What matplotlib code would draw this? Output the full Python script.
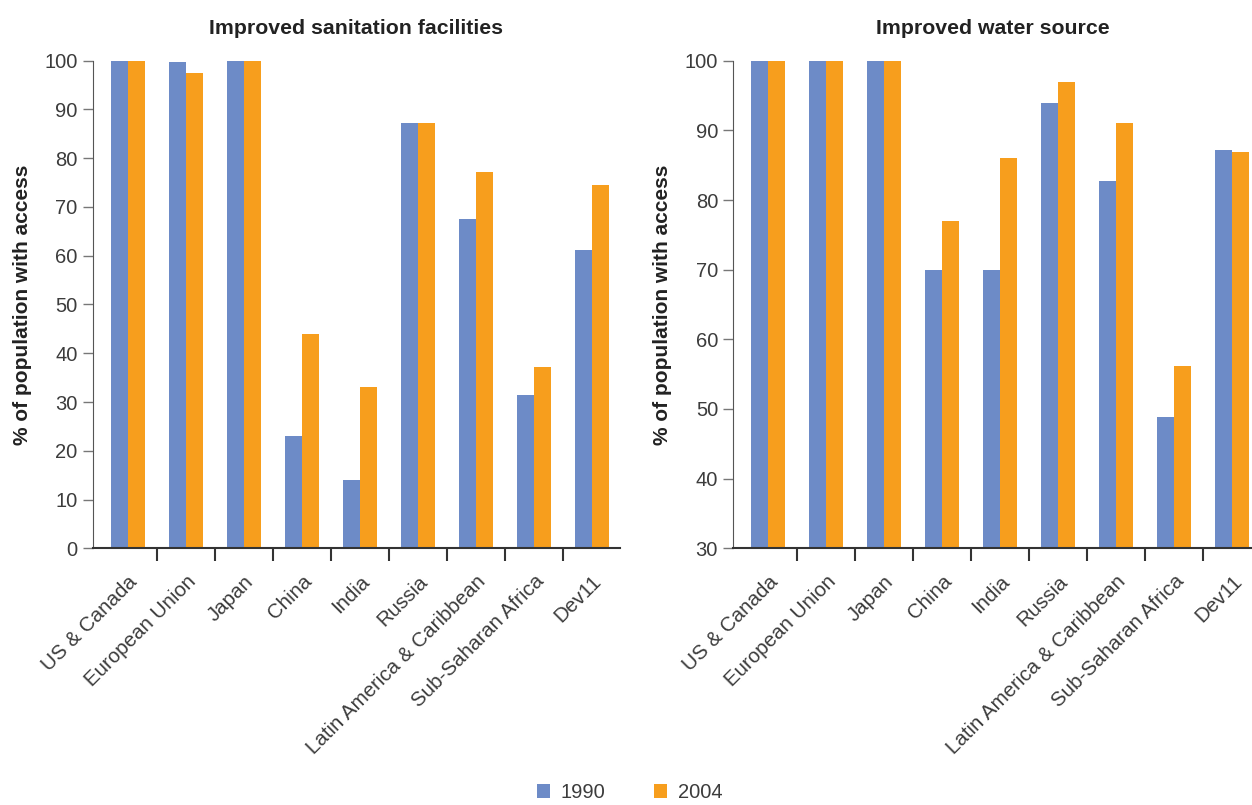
import numpy as np
import matplotlib.pyplot as plt
import matplotlib.transforms as mtransforms
from matplotlib.ticker import FixedLocator

plt.rcParams['font.family'] = ['Liberation Sans', 'DejaVu Sans']

# Dados
regioes = ['US & Canada', 'European Union', 'Japan', 'China', 'India', 'Russia',
           'Latin America & Caribbean', 'Sub-Saharan Africa', 'Dev11']
san_1990 = [100, 99.7, 100, 23, 14, 87.2, 67.5, 31.4, 61.2]
san_2004 = [100, 97.5, 100, 44, 33, 87.2, 77.2, 37.2, 74.5]
agua_1990 = [100, 100, 100, 70, 70, 93.9, 82.7, 48.8, 87.2]
agua_2004 = [100, 100, 100, 77, 86, 96.9, 91, 56.2, 86.9]
anos = ['1990', '2004']

azul = '#6d8bc7'
laranja = '#f79e1d'
cinza = '#3c3c3c'

fig = plt.figure(figsize=(12.52, 8.05), dpi=100)
ax1 = fig.add_axes([0.0743, 0.3189, 0.4207, 0.6057])
ax2 = fig.add_axes([0.5857, 0.3189, 0.4143, 0.6057])

x = np.arange(len(regioes))
w = 0.29
desloca = mtransforms.ScaledTranslation(-8 / 72, 0, fig.dpi_scale_trans)


def desenha(ax, v1, v2, titulo, ylim, yticks, xlim):
    ax.bar(x - w / 2, v1, width=w, color=azul, label=anos[0])
    ax.bar(x + w / 2, v2, width=w, color=laranja, label=anos[1])
    ax.set_xlim(*xlim)
    ax.set_ylim(*ylim)
    ax.set_yticks(yticks)
    ax.set_xticks(x)
    ax.set_xticklabels(regioes, rotation=45, ha='right', rotation_mode='anchor')
    for t in ax.get_xticklabels():
        t.set_transform(t.get_transform() + desloca)
    ax.xaxis.set_minor_locator(FixedLocator(np.arange(0.5, 9, 1)))
    ax.tick_params(axis='x', which='major', length=0, pad=17, labelsize=14.8, labelcolor=cinza)
    ax.tick_params(axis='x', which='minor', length=9, width=1.5, color='#333333')
    ax.tick_params(axis='y', length=7, width=1, color='#777777', labelsize=14.5,
                   labelcolor=cinza, pad=4)
    for s in ['top', 'right']:
        ax.spines[s].set_visible(False)
    ax.spines['left'].set_color('#555555')
    ax.spines['bottom'].set_color('#333333')
    ax.spines['bottom'].set_linewidth(1.5)
    ax.set_title(titulo, fontsize=15.3, fontweight='bold', color='#222222', pad=19.5)
    ax.set_ylabel('% of population with access', fontsize=15, fontweight='bold',
                  color='#222222', labelpad=9)


desenha(ax1, san_1990, san_2004, 'Improved sanitation facilities', (0, 100),
        np.arange(0, 101, 10), (-0.6, 8.48))
desenha(ax2, agua_1990, agua_2004, 'Improved water source', (30, 100),
        np.arange(30, 101, 10), (-0.6, 8.34))

h, l = ax1.get_legend_handles_labels()
fig.legend(h, l, loc='lower center', bbox_to_anchor=(0.503, -0.019), ncol=2, frameon=False,
           fontsize=14.5, handlelength=0.65, handleheight=0.65, columnspacing=2.4,
           handletextpad=0.55, labelcolor=cinza)

fig.savefig('out.png', dpi=100)
